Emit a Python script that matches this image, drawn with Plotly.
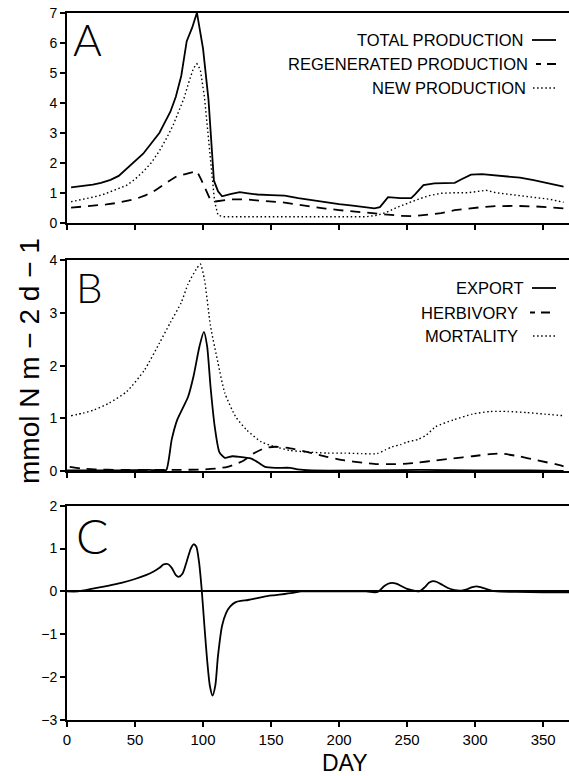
import plotly.graph_objects as go

# ---------------- data ----------------
# Panel A
a_total_day = [3, 10, 19, 25, 32, 38, 44, 50, 56, 62, 68, 72, 76, 80, 84, 88, 92, 95.5, 100, 104,
               106.5, 108, 111, 114, 120, 127, 133, 140, 150, 160, 170, 180, 190, 200, 210,
               220, 226, 230, 236, 245, 253, 256, 262, 270, 280, 285, 290, 297, 305, 315,
               323, 333, 343, 352, 360, 365]
a_total = [1.18, 1.21, 1.27, 1.33, 1.43, 1.56, 1.8, 2.05, 2.3, 2.65, 3.0, 3.35, 3.7, 4.2, 4.9,
           6.05, 6.5, 7.0, 5.8, 4.1, 2.4, 1.4, 1.05, 0.88, 0.95, 1.02, 0.98, 0.94, 0.92, 0.9,
           0.82, 0.75, 0.68, 0.62, 0.57, 0.5, 0.48, 0.52, 0.85, 0.82, 0.82, 0.95, 1.25, 1.31,
           1.32, 1.33, 1.45, 1.6, 1.62, 1.58, 1.53, 1.5, 1.42, 1.33, 1.25, 1.2]

a_regen_day = [3, 12, 20, 29, 37, 44, 51, 58, 65, 72, 80, 87, 95.5, 99, 102.5, 105, 108, 112,
               120, 130, 140, 150, 160, 170, 180, 190, 200, 210, 220, 228, 235, 245, 255, 265,
               275, 285, 295, 305, 315, 330, 345, 355, 365]
a_regen = [0.5, 0.53, 0.57, 0.61, 0.66, 0.72, 0.8, 0.92, 1.08, 1.3, 1.53, 1.62, 1.72, 1.4, 1.05,
           0.8, 0.7, 0.72, 0.78, 0.78, 0.75, 0.72, 0.67, 0.6, 0.53, 0.47, 0.42, 0.38, 0.33, 0.3,
           0.27, 0.23, 0.22, 0.26, 0.32, 0.42, 0.48, 0.52, 0.55, 0.56, 0.54, 0.52, 0.48]

a_new_day = [3, 12, 19, 26, 32, 38, 44, 50, 56, 62, 68, 73, 78, 82, 86, 90, 93, 95.5, 98, 101,
             104, 106.5, 108.5, 111, 115, 130, 150, 170, 190, 210, 220, 228, 235, 242, 250,
             258, 266, 275, 285, 295, 303, 308, 315, 325, 335, 345, 355, 365]
a_new = [0.7, 0.78, 0.85, 0.93, 1.03, 1.14, 1.25, 1.45, 1.7, 2.0, 2.4, 2.8, 3.25, 3.7, 4.15,
         4.75, 5.15, 5.3, 5.1, 4.2, 2.7, 1.45, 0.7, 0.25, 0.2, 0.2, 0.2, 0.18, 0.18, 0.19, 0.2,
         0.25, 0.35, 0.5, 0.65, 0.78, 0.9, 0.98, 1.0, 1.0, 1.05, 1.08, 1.0, 0.95, 0.9, 0.85,
         0.78, 0.68]

# Panel B
b_export_day = [0, 20, 40, 60, 70, 73, 77, 81, 85, 89, 93, 97.4, 100.6, 103, 105.5, 108.6, 112,
                116, 121.5, 127, 135, 140, 145.5, 153.5, 164, 169.5, 180, 220, 260, 300, 340, 365]
b_export = [0.01, 0.01, 0.01, 0.02, 0.01, 0.02, 0.6, 0.97, 1.19, 1.41, 1.8, 2.37, 2.64, 2.37,
            1.6, 0.84, 0.36, 0.25, 0.28, 0.27, 0.24, 0.17, 0.08, 0.06, 0.06, 0.03, 0.01, 0.01,
            0.02, 0.01, 0.01, 0.0]

b_herb_day = [2, 10, 20, 40, 60, 80, 100, 111, 118, 124, 130, 137, 145, 153, 164, 177, 191,
              204, 217, 228, 239, 250, 258, 271, 284, 298, 311, 319, 332, 346, 359, 365]
b_herb = [0.08, 0.05, 0.03, 0.02, 0.02, 0.02, 0.03, 0.05, 0.08, 0.13, 0.2, 0.33, 0.43, 0.46,
          0.43, 0.36, 0.27, 0.2, 0.16, 0.13, 0.13, 0.14, 0.16, 0.2, 0.24, 0.28, 0.32, 0.33,
          0.28, 0.2, 0.13, 0.09]

b_mort_day = [3, 12, 20, 31, 44, 57, 68, 76, 84, 89, 95, 98, 101, 105.5, 111, 116, 124, 132,
              143, 153, 164, 177, 191, 204, 217, 228, 234, 239, 245, 250, 258, 264, 271, 284,
              298, 311, 324, 338, 351, 365]
b_mort = [1.05, 1.1, 1.16, 1.29, 1.51, 1.92, 2.43, 2.82, 3.2, 3.55, 3.83, 3.93, 3.64, 2.75,
          2.05, 1.48, 1.03, 0.78, 0.55, 0.46, 0.39, 0.36, 0.34, 0.34, 0.33, 0.33, 0.4, 0.46,
          0.5, 0.55, 0.6, 0.68, 0.84, 0.97, 1.08, 1.13, 1.13, 1.11, 1.08, 1.05]

# Panel C
c_day = [0, 8, 20, 30, 40, 50, 58, 64, 68, 71, 74, 77, 80, 82, 85, 88, 91, 93, 95, 97, 99, 101,
         103, 105, 107, 109, 111, 114, 117, 120, 124, 128, 133, 138, 145, 152, 160, 167, 172,
         180, 200, 220, 226, 229, 233, 236, 239, 242, 246, 250, 255, 259, 263, 266, 269, 272,
         276, 280, 285, 290, 294, 298, 301, 304, 308, 312, 316, 330, 350, 369]
c_net = [0, 0, 0.07, 0.13, 0.2, 0.29, 0.38, 0.47, 0.55, 0.63, 0.64, 0.55, 0.38, 0.34, 0.42,
         0.7, 1.0, 1.1, 1.05, 0.7, 0.05, -0.8, -1.6, -2.2, -2.43, -2.2, -1.5, -0.8, -0.5,
         -0.35, -0.25, -0.22, -0.2, -0.17, -0.12, -0.09, -0.06, -0.03, 0.0, 0.0, 0.0, 0.0,
         -0.02, 0.0, 0.12, 0.18, 0.2, 0.18, 0.12, 0.06, 0.02, 0.0, 0.1, 0.2, 0.24, 0.22, 0.15,
         0.08, 0.03, 0.02, 0.05, 0.1, 0.12, 0.1, 0.06, 0.02, 0.0, -0.01, -0.02, -0.02]

x_ticks = [0, 50, 100, 150, 200, 250, 300, 350]
legend_a = ["TOTAL PRODUCTION", "REGENERATED PRODUCTION", "NEW PRODUCTION"]
legend_b = ["EXPORT", "HERBIVORY", "MORTALITY"]

# ---------------- layout helpers ----------------
W, H = 569, 776
ML, MT, MB = 67, 10, 56
PW = W - ML
PH = H - MT - MB


def px(x):
    return (x - ML) / PW


def py(y):
    return (H - MB - y) / PH


FONT = "Liberation Sans, Arial, sans-serif"
SOLID = dict(color="black", width=1.8)
DASH = dict(color="black", width=1.8, dash="10px,7px")
DOT = dict(color="black", width=1.4, dash="1.5px,2.6px")

fig = go.Figure()

fig.add_trace(go.Scatter(x=a_total_day, y=a_total, mode="lines", line=SOLID, xaxis="x", yaxis="y"))
fig.add_trace(go.Scatter(x=a_regen_day, y=a_regen, mode="lines", line=DASH, xaxis="x", yaxis="y"))
fig.add_trace(go.Scatter(x=a_new_day, y=a_new, mode="lines", line=DOT, xaxis="x", yaxis="y"))

fig.add_trace(go.Scatter(x=b_export_day, y=b_export, mode="lines", line=dict(SOLID, shape="spline", smoothing=0.6), xaxis="x2", yaxis="y2"))
fig.add_trace(go.Scatter(x=b_herb_day, y=b_herb, mode="lines", line=dict(DASH, shape="spline", smoothing=0.6), xaxis="x2", yaxis="y2"))
fig.add_trace(go.Scatter(x=b_mort_day, y=b_mort, mode="lines", line=dict(DOT, shape="spline", smoothing=0.6), xaxis="x2", yaxis="y2"))

fig.add_trace(go.Scatter(x=c_day, y=c_net, mode="lines", line=dict(SOLID, shape="spline", smoothing=0.7), xaxis="x3", yaxis="y3"))

xcommon = dict(range=[0, 369], showline=True, linewidth=2, linecolor="black", mirror=True,
               ticks="outside", ticklen=5, tickwidth=1.5, tickcolor="black",
               tickvals=x_ticks, showgrid=False, zeroline=False,
               tickfont=dict(family=FONT, size=15, color="black"))
ycommon = dict(showline=True, linewidth=2, linecolor="black", mirror=False,
               ticks="outside", ticklen=5, tickwidth=1.5, tickcolor="black", dtick=1,
               showgrid=False, zeroline=False,
               tickfont=dict(family=FONT, size=14, color="black"))

fig.update_layout(
    width=W, height=H,
    margin=dict(l=ML, r=0, t=MT, b=MB, autoexpand=False),
    paper_bgcolor="white", plot_bgcolor="white",
    showlegend=False,
    xaxis=dict(xcommon, domain=[0, 1], anchor="y", showticklabels=False),
    yaxis=dict(ycommon, domain=[py(222.7), py(12.7)], range=[0, 7], anchor="x"),
    xaxis2=dict(xcommon, domain=[0, 1], anchor="y2", showticklabels=False),
    yaxis2=dict(ycommon, domain=[py(471), py(260.3)], range=[0, 4], anchor="x2"),
    xaxis3=dict(xcommon, domain=[0, 1], anchor="y3", showticklabels=True),
    yaxis3=dict(ycommon, domain=[0, py(505.7)], range=[-3, 2], anchor="x3",
                zeroline=True, zerolinecolor="black", zerolinewidth=1.5),
)

ann = []
shapes = []

# panel letters
for letter, (lx, ly, size) in zip(["A", "B", "C"], [(87, 39, 44), (89, 287, 42), (92, 535, 48)]):
    ann.append(dict(text=letter, x=px(lx), y=py(ly), xref="paper", yref="paper",
                    xanchor="center", yanchor="middle", showarrow=False,
                    font=dict(family="Lato, sans-serif", size=size, color="black", weight=300)))

# legends (text on the left, sample on the right)
styles = [SOLID, DASH, DOT]
rows_a = [40, 64, 88]
ends_a = [526, 530, 528]
rows_b = [288, 312.5, 336]
ends_b = [526, 520, 520]
samples = [(532, 556), (538, 556), (533, 557)]
for labels, rows, ends in [(legend_a, rows_a, ends_a), (legend_b, rows_b, ends_b)]:
    for i, (lab, ry, ex) in enumerate(zip(labels, rows, ends)):
        ann.append(dict(text=lab, x=px(ex), y=py(ry), xref="paper", yref="paper",
                        xanchor="right", yanchor="middle", showarrow=False,
                        font=dict(family=FONT, size=16.5, color="black")))
        s0, s1 = samples[i]
        if i == 1:
            s0 = 536 if ex > 525 else 530
        st = styles[i]
        dash = "solid" if i == 0 else ("5px,6px,9px,50px" if i == 1 else "1.5px,2.6px")
        shapes.append(dict(type="line", xref="paper", yref="paper",
                           x0=px(s0), x1=px(s1), y0=py(ry), y1=py(ry),
                           line=dict(color="black", width=st["width"], dash=dash)))

# y title
ann.append(dict(text="mmol N m \u2212 2 d \u2212 1", x=px(29), y=py(361), xref="paper", yref="paper",
                xanchor="center", yanchor="middle", textangle=-90, showarrow=False,
                font=dict(family=FONT, size=28, color="black")))
# x title
ann.append(dict(text="DAY", x=px(345), y=py(763), xref="paper", yref="paper",
                xanchor="center", yanchor="middle", showarrow=False,
                font=dict(family=FONT, size=23, color="black")))

fig.update_layout(annotations=ann, shapes=shapes)

fig.write_html("out.html")
